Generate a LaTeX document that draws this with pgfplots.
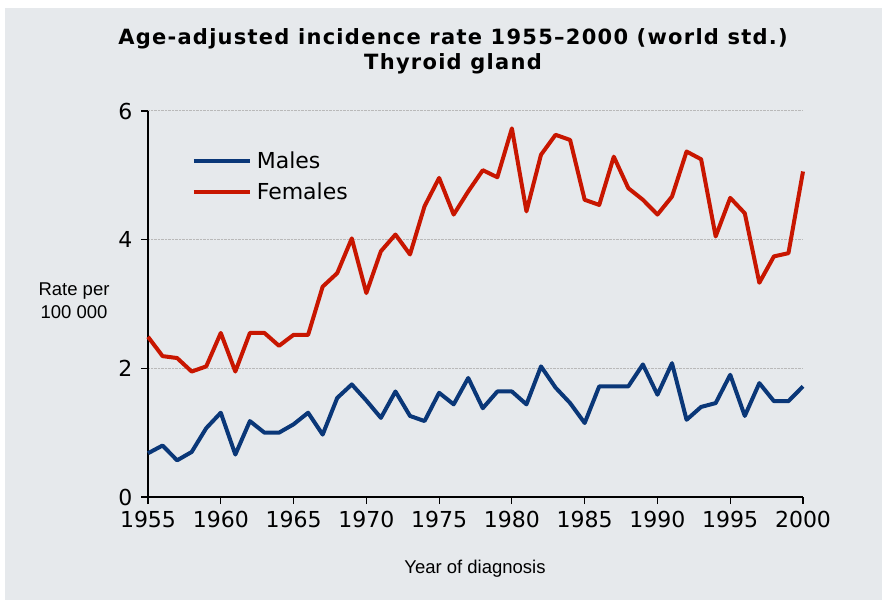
\documentclass[border=0pt]{standalone}
\usepackage{pgfplots}
\pgfplotsset{compat=1.18}
\usepackage{pgfplotstable}
\usepackage{fontspec}
\setmainfont{DejaVu Sans}
\newfontfamily\tickfont{DejaVu Sans}
\newfontfamily\labfont{Liberation Sans}
\newfontfamily\titlefont[LetterSpace=6]{DejaVu Sans}
\newfontfamily\legfont{DejaVu Sans}
\definecolor{bggray}{RGB}{230,233,236}
\definecolor{maleblue}{RGB}{10,55,120}
\definecolor{femred}{RGB}{200,22,0}
\definecolor{gridgray}{RGB}{185,185,185}

\pgfplotstableread{
year M F
1955 0.68 2.49
1956 0.80 2.19
1957 0.57 2.16
1958 0.70 1.95
1959 1.07 2.03
1960 1.31 2.55
1961 0.66 1.95
1962 1.18 2.55
1963 1.00 2.55
1964 1.00 2.35
1965 1.13 2.52
1966 1.31 2.52
1967 0.97 3.27
1968 1.54 3.48
1969 1.75 4.02
1970 1.50 3.17
1971 1.23 3.82
1972 1.64 4.08
1973 1.26 3.77
1974 1.18 4.52
1975 1.62 4.96
1976 1.44 4.39
1977 1.85 4.75
1978 1.38 5.08
1979 1.64 4.97
1980 1.64 5.73
1981 1.44 4.44
1982 2.03 5.32
1983 1.70 5.63
1984 1.46 5.55
1985 1.15 4.62
1986 1.72 4.54
1987 1.72 5.29
1988 1.72 4.80
1989 2.06 4.62
1990 1.59 4.39
1991 2.08 4.67
1992 1.20 5.37
1993 1.40 5.25
1994 1.46 4.05
1995 1.90 4.65
1996 1.26 4.41
1997 1.77 3.33
1998 1.49 3.74
1999 1.49 3.79
2000 1.72 5.06
}\datatable

\begin{document}
\begin{tikzpicture}[x=1pt,y=1pt]
\useasboundingbox (0,0) rectangle (882,602);
\fill[white] (0,0) rectangle (882,602);
\fill[bggray] (5,2) rectangle (882,594);
\begin{axis}[
  at={(148pt,105pt)}, anchor=south west,
  width=655pt, height=386pt, scale only axis,
  xmin=1955, xmax=2000, ymin=0, ymax=6,
  axis x line*=bottom, axis y line*=left,
  axis line style={black, line width=1.4pt},
  xtick={1955,1960,...,2000}, ytick={0,2,4,6},
  tick align=outside, major tick length=7pt,
  tick style={black, line width=1.2pt},
  ymajorgrids, grid style={gridgray, densely dotted, line width=1pt},
  /pgf/number format/assume math mode=true,
  /pgf/number format/1000 sep={},
  tick label style={font=\tickfont\fontsize{22}{22}\selectfont},
  yticklabel style={xshift=-5pt},
  xticklabel style={yshift=-4pt},
  clip=false,
  legend style={draw=none, fill=none, at={(rel axis cs:0.062,0.903)}, anchor=north west,
    font=\legfont\fontsize{22}{22}\selectfont, row sep=11pt,
    nodes={inner ysep=1pt, inner xsep=5pt}},
  legend cell align=left,
  legend image code/.code={\draw[#1, line width=4pt] (0pt,0pt) -- (56pt,0pt);},
]
\addplot[maleblue, line width=4pt, line join=round] table[x=year,y=M]{\datatable};
\addlegendentry{Males}
\addplot[femred, line width=4pt, line join=round] table[x=year,y=F]{\datatable};
\addlegendentry{Females}
\end{axis}
\node[font=\titlefont\bfseries\fontsize{21}{21}\selectfont] at (453,563) {Age-adjusted incidence rate 1955–2000 (world std.)};
\node[font=\titlefont\bfseries\fontsize{21}{21}\selectfont] at (453,538) {Thyroid gland};
\node[font=\labfont\fontsize{18.5}{23}\selectfont, align=center] at (74,301) {Rate per\\100 000};
\node[font=\labfont\fontsize{18.5}{18.5}\selectfont] at (475,33) {Year of diagnosis};
\end{tikzpicture}
\end{document}
